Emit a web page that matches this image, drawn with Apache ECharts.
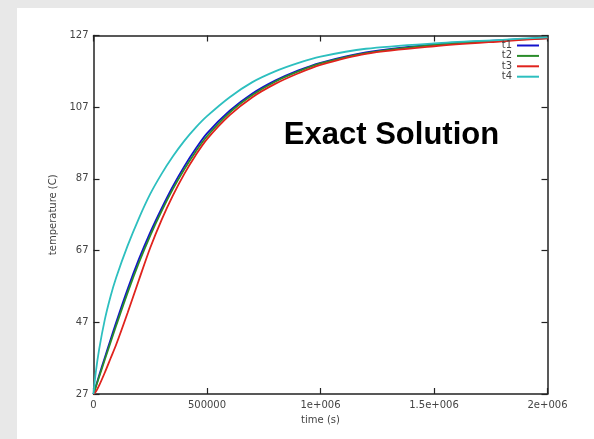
<!DOCTYPE html>
<html>
<head>
<meta charset="utf-8">
<style>
  html, body { margin: 0; padding: 0; background: #e8e8e8; }
  #chart { width: 594px; height: 439px; }
</style>
<script src="https://cdn.jsdelivr.net/npm/echarts@6/dist/echarts.min.js"></script>
</head>
<body>
<div id="chart"></div>
<script>
const times = [0, 10000, 25000, 50000, 75000, 100000, 150000, 200000, 250000, 300000, 350000, 400000,
  450000, 500000, 600000, 700000, 800000, 900000, 1000000, 1200000, 1500000, 1800000, 2000000];

const t1 = [27, 29.1, 32.2, 37.2, 42.1, 47, 56.2, 64.6, 72.1, 78.8, 85, 90.5,
  95.4, 99.7, 106, 110.8, 114.4, 117.2, 119.4, 122.3, 124.5, 125.7, 126.3];
const t2 = [27, 28.9, 31.8, 36.6, 41.4, 46.1, 55.2, 63.6, 71.2, 78, 84.2, 89.7,
  94.6, 98.9, 105.5, 110.4, 114.1, 116.9, 119.2, 122.1, 124.4, 125.6, 126.3];
const t3 = [27, 27.6, 29.4, 33, 36.9, 40.8, 49.6, 58.8, 67.8, 75.6, 82.4, 88.4,
  93.6, 98.1, 104.8, 109.8, 113.5, 116.4, 118.8, 121.9, 124, 125.4, 126.2];
const t4 = [27, 33, 39.5, 47.8, 54.2, 59.5, 68.3, 76, 82.8, 88.4, 93.3, 97.6,
  101.3, 104.5, 109.8, 114, 117, 119.3, 121.1, 123.3, 124.8, 125.8, 126.5];

const seriesNames = ["t1", "t2", "t3", "t4"];
const seriesColors = ["#1212cc", "#2a8c2a", "#e0231d", "#2dbfbf"];
const xTickLabels = ["0", "500000", "1e+006", "1.5e+006", "2e+006"];

const chart = echarts.init(document.getElementById("chart"));

const tickFont = { fontFamily: "DejaVu Sans", fontSize: 10, color: "#444" };
const axisLine = { show: true, onZero: false, lineStyle: { color: "#222", width: 1.5 } };
const innerTick = { inside: true, length: 6, lineStyle: { color: "#222", width: 1.2 } };

function pairs(values) {
  return times.map((t, i) => [t, values[i]]);
}

chart.setOption({
  backgroundColor: "#e8e8e8",
  animation: false,
  graphic: [
    {
      type: "rect",
      z: -10,
      shape: { x: 17, y: 8, width: 577, height: 431 },
      style: { fill: "#ffffff" },
    },
    {
      type: "text",
      z: 10,
      style: {
        text: "Exact Solution",
        x: 391.5,
        y: 135,
        textAlign: "center",
        textVerticalAlign: "middle",
        font: "bold 31px 'Liberation Sans', Arial, sans-serif",
        fill: "#000",
      },
    },
  ],
  legend: {
    orient: "vertical",
    right: 55,
    top: 40.5,
    padding: 0,
    align: "right",
    icon: "rect",
    itemWidth: 22,
    itemHeight: 2,
    itemGap: 0.4,
    data: seriesNames,
    textStyle: { fontFamily: "DejaVu Sans", fontSize: 10, color: "#444" },
  },
  grid: { left: 93.5, right: 46.5, top: 35.5, bottom: 45, containLabel: false },
  xAxis: [
    {
      type: "value",
      min: 0,
      max: 2000000,
      interval: 500000,
      name: "time (s)",
      nameLocation: "middle",
      nameGap: 21,
      nameTextStyle: tickFont,
      axisLine,
      splitLine: { show: false },
      axisTick: innerTick,
      axisLabel: { ...tickFont, margin: 6, formatter: (v) => xTickLabels[Math.round(v / 500000)] },
    },
    {
      type: "value",
      position: "top",
      min: 0,
      max: 2000000,
      interval: 500000,
      axisLine,
      splitLine: { show: false },
      axisTick: innerTick,
      axisLabel: { show: false },
    },
  ],
  yAxis: [
    {
      type: "value",
      position: "left",
      min: 27,
      max: 127,
      interval: 20,
      name: "temperature (C)",
      nameLocation: "middle",
      nameGap: 19,
      nameTextStyle: tickFont,
      axisLine,
      splitLine: { show: false },
      axisTick: innerTick,
      axisLabel: { ...tickFont, margin: 5 },
    },
    {
      type: "value",
      position: "right",
      min: 27,
      max: 127,
      interval: 20,
      axisLine,
      splitLine: { show: false },
      axisTick: innerTick,
      axisLabel: { show: false },
    },
  ],
  series: [t1, t2, t3, t4].map((values, i) => ({
    name: seriesNames[i],
    type: "line",
    data: pairs(values),
    showSymbol: false,
    symbol: "none",
    smooth: 0.3,
    color: seriesColors[i],
    lineStyle: { color: seriesColors[i], width: 1.8 },
  })),
});
</script>
</body>
</html>
